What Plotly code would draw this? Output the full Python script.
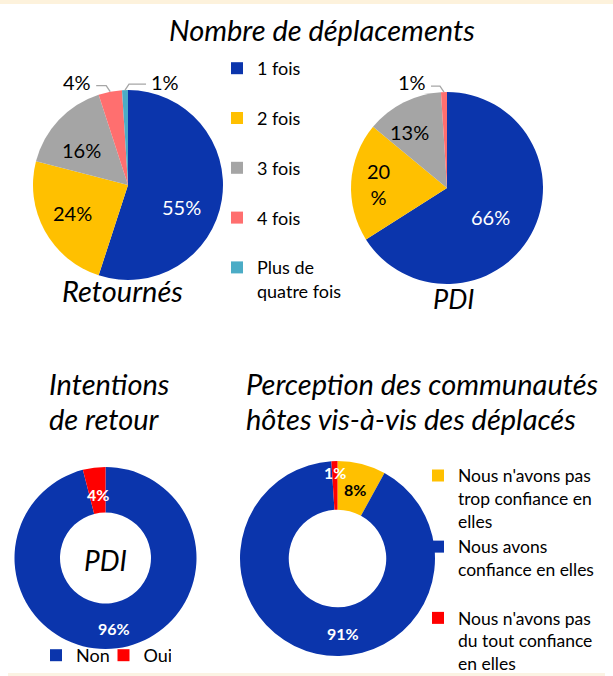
import math
import plotly.graph_objects as go

# page is 613x676; the html body keeps its default 8px margin, so the figure fills the rest
PAGE_W, PAGE_H = 613, 676
OFF = 8
W, H = PAGE_W - OFF, PAGE_H - OFF

# ---------------- data ----------------
deplac_labels = ["1 fois", "2 fois", "3 fois", "4 fois", "Plus de quatre fois"]
deplac_legend = ["1 fois<br> ", "2 fois<br> ", "3 fois<br> ", "4 fois<br> ", "Plus de<br>quatre fois"]
retournes_vals = [55, 24, 16, 4, 1]
pdi_vals = [66, 20, 13, 1, 0]
deplac_colors = ["#0B35AC", "#FFC000", "#A5A5A5", "#FF6F6F", "#4BACC6"]

retour_labels = ["Non", "Oui"]
retour_vals = [96, 4]
retour_colors = ["#0B35AC", "#FF0000"]

percep_labels = ["Nous n'avons pas trop confiance en elles",
                 "Nous avons confiance en elles",
                 "Nous n'avons pas du tout confiance en elles"]
percep_legend = ["Nous n'avons pas<br>trop confiance en<br>elles",
                 "Nous avons<br>confiance en elles<br> ",
                 "Nous n'avons pas<br>du tout confiance<br>en elles"]
percep_vals = [8, 91, 1]
percep_colors = ["#FFC000", "#0B35AC", "#FF0000"]

FONT = "Lato"

# ---------------- geometry helpers (page pixels -> paper fractions) ----------------
def px(x):
    return (x - OFF) / W

def py(y):
    return 1 - (y - OFF) / H

def dom(cx, cy, r):
    return dict(x=[px(cx - r), px(cx + r)], y=[py(cy + r), py(cy - r)])

def mid_angle(vals, i):
    tot = float(sum(vals))
    return 360.0 * (sum(vals[:i]) + vals[i] / 2.0) / tot

def polar(cx, cy, r, ang, frac):
    a = math.radians(ang)
    return cx + frac * r * math.sin(a), cy - frac * r * math.cos(a)

charts = {
    "ret": dict(c=(128, 185), r=95),
    "pdi": dict(c=(447, 188), r=96),
    "int": dict(c=(105.5, 558), r=91),
    "per": dict(c=(337.5, 558.5), r=97.5),
}

fig = go.Figure()

fig.add_trace(go.Pie(
    labels=deplac_legend, values=retournes_vals, marker=dict(colors=deplac_colors, line=dict(width=0)),
    sort=False, direction="clockwise", rotation=0, textinfo="none", hovertext=deplac_labels,
    hoverinfo="text+percent", domain=dom(*charts["ret"]["c"], charts["ret"]["r"]), legend="legend",
    name="Retournés"))
fig.add_trace(go.Pie(
    labels=deplac_legend, values=pdi_vals, marker=dict(colors=deplac_colors, line=dict(width=0)),
    sort=False, direction="clockwise", rotation=0, textinfo="none", hovertext=deplac_labels,
    hoverinfo="text+percent", domain=dom(*charts["pdi"]["c"], charts["pdi"]["r"]), legend="legend",
    name="PDI"))
fig.add_trace(go.Pie(
    labels=retour_labels, values=retour_vals, marker=dict(colors=retour_colors, line=dict(width=0)),
    sort=False, direction="clockwise", rotation=0, hole=0.5, textinfo="none",
    hoverinfo="label+percent", domain=dom(*charts["int"]["c"], charts["int"]["r"]), legend="legend3",
    name="Intentions de retour"))
fig.add_trace(go.Pie(
    labels=percep_legend, values=percep_vals, marker=dict(colors=percep_colors, line=dict(width=0)),
    sort=False, direction="clockwise", rotation=0, hole=0.5, textinfo="none", hovertext=percep_labels,
    hoverinfo="text+percent", domain=dom(*charts["per"]["c"], charts["per"]["r"]), legend="legend2",
    name="Perception"))

annotations = []
shapes = []

def add_text(x, y, text, size, color="#000000", bold=False, italic=False, xanchor="center", align="center"):
    t = text
    if bold:
        t = "<b>" + t + "</b>"
    if italic:
        t = "<i>" + t + "</i>"
    annotations.append(dict(x=px(x), y=py(y), xref="paper", yref="paper", text=t, showarrow=False,
                            xanchor=xanchor, yanchor="middle", align=align,
                            font=dict(family=FONT, size=size, color=color)))

# inside labels: (chart, values, index, frac, angle tweak, color, size, bold, fmt)
inside = [
    ("ret", retournes_vals, 0, 0.61, 13, "#FFFFFF", 20, False, "{}%"),
    ("ret", retournes_vals, 1, 0.65, 2, "#000000", 20, False, "{}%"),
    ("ret", retournes_vals, 2, 0.61, -6, "#000000", 20, False, "{}%"),
    ("pdi", pdi_vals, 0, 0.54, 5, "#FFFFFF", 20, False, "{}%"),
    ("pdi", pdi_vals, 1, 0.72, 0, "#000000", 20, False, "{}<br>%"),
    ("pdi", pdi_vals, 2, 0.70, -6.5, "#000000", 20, False, "{}%"),
    ("int", retour_vals, 0, 0.78, 0, "#FFFFFF", 16, True, "{}%"),
    ("int", retour_vals, 1, 0.70, 0, "#FFFFFF", 16, True, "{}%"),
    ("per", percep_vals, 0, 0.73, 0, "#000000", 16, True, "{}%"),
    ("per", percep_vals, 1, 0.77, -16.8, "#FFFFFF", 16, True, "{}%"),
    ("per", percep_vals, 2, 0.88, 0, "#FFFFFF", 16, True, "{}%"),
]
for ch, vals, i, frac, dth, col, size, bold, fmt in inside:
    cx, cy = charts[ch]["c"]
    r = charts[ch]["r"]
    x, y = polar(cx, cy, r, mid_angle(vals, i) + dth, frac)
    add_text(x, y, fmt.format(vals[i]), size, col, bold)

# outside labels with leader lines: (chart, values, index, dx, dy)
outside = [
    ("ret", retournes_vals, 3, -33, -10),
    ("ret", retournes_vals, 4, 40, -8),
    ("pdi", pdi_vals, 3, -32, -10),
]
for ch, vals, i, dx, dy in outside:
    cx, cy = charts[ch]["c"]
    r = charts[ch]["r"]
    ex, ey = polar(cx, cy, r, mid_angle(vals, i), 1.0)
    lx, ly = ex + dx, ey + dy
    add_text(lx, ly, "{}%".format(vals[i]), 20, "#000000")
    sgn = 1 if dx > 0 else -1
    elbow_y = ey - 6
    end_x = lx - sgn * 19
    path = "M {} {} L {} {} L {} {}".format(px(ex), py(ey), px(ex + sgn * 4), py(elbow_y), px(end_x), py(elbow_y))
    shapes.append(dict(type="path", xref="paper", yref="paper", path=path,
                       line=dict(color="#A6A6A6", width=1.3)))

# titles
add_text(322, 30, "Nombre de déplacements", 29, italic=True)
add_text(122, 291, "Retournés", 29, italic=True)
add_text(453, 298, "PDI", 27, italic=True)
add_text(105.5, 560, "PDI", 28, italic=True)
add_text(47, 383, "Intentions", 29, italic=True, xanchor="left", align="left")
add_text(47, 418, "de retour", 29, italic=True, xanchor="left", align="left")
add_text(244, 383, "Perception des communautés", 29, italic=True, xanchor="left", align="left")
add_text(244, 418, "hôtes vis-à-vis des déplacés", 29, italic=True, xanchor="left", align="left")

# thin cream band at the bottom of the page
shapes.append(dict(type="rect", xref="paper", yref="paper", x0=0, x1=1, y0=0, y1=py(673),
                   fillcolor="#FBF3E3", line=dict(width=0)))

fig.update_layout(
    width=W, height=H,
    margin=dict(l=0, r=0, t=0, b=0, autoexpand=False),
    paper_bgcolor="#FFFFFF", plot_bgcolor="#FFFFFF",
    font=dict(family=FONT, color="#000000"),
    showlegend=True,
    legend=dict(x=px(217), y=py(50), xanchor="left", yanchor="top", orientation="v",
                valign="top", font=dict(family=FONT, size=18, color="#000000"),
                bgcolor="rgba(0,0,0,0)", traceorder="normal"),
    legend2=dict(x=px(418), y=py(457.5), xanchor="left", yanchor="top", orientation="v",
                 valign="top", font=dict(family=FONT, size=17.5, color="#000000"),
                 bgcolor="rgba(0,0,0,0)", traceorder="normal"),
    legend3=dict(x=px(36), y=py(637), xanchor="left", yanchor="top", orientation="h",
                 font=dict(family=FONT, size=18, color="#000000"), entrywidth=22.5,
                 entrywidthmode="pixels", bgcolor="rgba(0,0,0,0)", traceorder="normal"),
    annotations=annotations,
    shapes=shapes,
)

fig.write_html("out.html", config={"displayModeBar": False},
               post_script="document.body.style.background='linear-gradient(to bottom, #FDF2DC 0px, #FDF2DC 4px, #FFFFFF 4px) no-repeat, #FFFFFF';")
